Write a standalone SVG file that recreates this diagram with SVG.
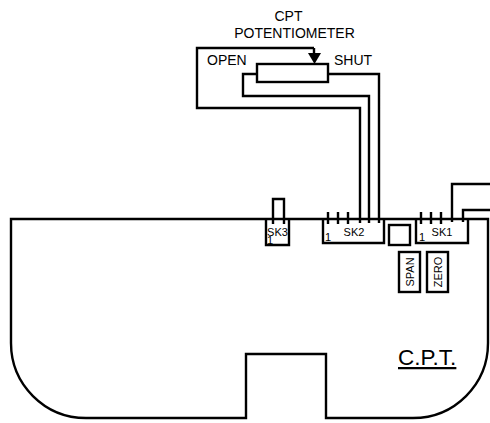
<svg xmlns="http://www.w3.org/2000/svg" width="490" height="423" viewBox="0 0 490 423">
<style>
.l{fill:none;stroke:#000;stroke-width:2.4}
.b{fill:#fff;stroke:#000;stroke-width:2.4}
text{font-family:"Liberation Sans",Arial,sans-serif;fill:#000;font-size:14px}
.s{font-size:11px}
</style>
<rect width="490" height="423" fill="#fff"/>
<g id="board"><path class="l" d="M11 219H488V343A75 75 0 0 1 413 418H326V354H246V418H86A75 75 0 0 1 11 343Z"/></g>
<g id="connectors">
<path class="l" d="M314 48H197V108H360V223M314 48V56M257 74H243V96H369V223M328 74H379V223"/>
<path class="l" d="M273 219V199H284V219M452 222V184H490M463 222V210H490"/>
<path d="M308 53H321L314.500 64Z" fill="#000"/>
</g>
<g id="potentiometer">
<rect class="b" x="257" y="64" width="71" height="18"/>
<text x="288.500" y="21" text-anchor="middle">CPT</text>
<text x="294.500" y="38" text-anchor="middle">POTENTIOMETER</text>
<text x="207" y="65">OPEN</text>
<text x="334" y="65">SHUT</text>
</g>
<g id="sk3">
<path class="l" d="M266 219V245H289V219M273 219V224M284 219V224"/>
<text class="s" x="277.500" y="236" text-anchor="middle">SK3</text>
<text class="s" x="267" y="244">1</text>
</g>
<g id="sk2">
<path class="l" d="M323 219V243H384V219M328 212V224M338 212V224M348 212V224"/>
<text class="s" x="354" y="236" text-anchor="middle">SK2</text>
<text class="s" x="325" y="241">1</text>
</g>
<g id="square"><rect class="l" x="389" y="225" width="21" height="20"/></g>
<g id="sk1">
<path class="l" d="M416 219V243H468V219M421 212V224M431 212V224M441 212V224"/>
<text class="s" x="442" y="236" text-anchor="middle">SK1</text>
<text class="s" x="419" y="241">1</text>
</g>
<g id="span">
<rect class="l" x="399" y="252" width="21" height="40"/>
<text class="s" transform="translate(414 272) rotate(-90)" text-anchor="middle">SPAN</text>
</g>
<g id="zero">
<rect class="l" x="427" y="252" width="21" height="40"/>
<text class="s" transform="translate(442 272) rotate(-90)" text-anchor="middle">ZERO</text>
</g>
<g id="cpt"><text x="398" y="365" style="font-size:22.500px" text-decoration="underline">C.P.T.</text></g>
</svg>
